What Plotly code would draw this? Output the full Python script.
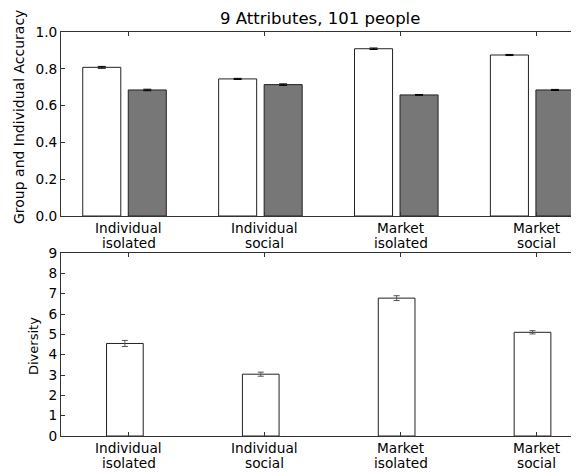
import plotly.graph_objects as go

categories = ["Individual isolated", "Individual social", "Market isolated", "Market social"]
label_line1 = ["Individual", "Individual", "Market", "Market"]
label_line2 = ["isolated", "social", "isolated", "social"]
group_acc = [0.808, 0.745, 0.909, 0.875]
group_err = [0.005, 0.003, 0.004, 0.003]
indiv_acc = [0.685, 0.714, 0.658, 0.685]
indiv_err = [0.004, 0.004, 0.002, 0.003]
diversity = [4.55, 3.04, 6.78, 5.10]
diversity_err = [0.15, 0.10, 0.12, 0.08]

idx = list(range(len(categories)))
W = 0.28
FONT = "DejaVu Sans"
EDGE = "#222222"
TICK_SIZE = 13.7

# page body has an 8px margin; figure is sized so it ends at the window edge
OFF = 8
W_PX, H_PX = 579 - OFF, 472 - OFF


def px(x):
    return (x - OFF) / W_PX


def py(y):
    return 1 - (y - OFF) / H_PX


fig = go.Figure()
fig.add_trace(go.Bar(
    x=[i - 0.20 for i in idx], y=group_acc, width=W,
    marker=dict(color="white", line=dict(color=EDGE, width=1)),
    error_y=dict(type="data", array=group_err, color="black", thickness=1, width=4),
    xaxis="x", yaxis="y", showlegend=False))
fig.add_trace(go.Bar(
    x=[i + 0.135 for i in idx], y=indiv_acc, width=W,
    marker=dict(color="#777777", line=dict(color=EDGE, width=1)),
    error_y=dict(type="data", array=indiv_err, color="black", thickness=1, width=4),
    xaxis="x", yaxis="y", showlegend=False))
fig.add_trace(go.Bar(
    x=[i - 0.03 for i in idx], y=diversity, width=0.27,
    marker=dict(color="white", line=dict(color=EDGE, width=1)),
    error_y=dict(type="data", array=diversity_err, color="#555555", thickness=1, width=3),
    xaxis="x2", yaxis="y2", showlegend=False))

xdom = [px(61), px(576)]
axis_common = dict(showline=True, linecolor="#333333", linewidth=1, mirror="ticks",
                   ticks="inside", ticklen=4, tickcolor="#333333", showgrid=False,
                   zeroline=False, automargin=False,
                   tickfont=dict(family=FONT, size=TICK_SIZE, color="black"))

annotations = [
    dict(text="9 Attributes, 101 people", x=px(320), y=py(19),
         xref="paper", yref="paper", showarrow=False, xanchor="center", yanchor="middle",
         font=dict(family=FONT, size=16.5, color="black")),
    dict(text="Group and Individual Accuracy", x=px(19), y=py(117),
         xref="paper", yref="paper", showarrow=False, textangle=-90,
         xanchor="center", yanchor="middle", font=dict(family=FONT, size=14, color="black")),
    dict(text="Diversity", x=px(33), y=py(346),
         xref="paper", yref="paper", showarrow=False, textangle=-90,
         xanchor="center", yanchor="middle", font=dict(family=FONT, size=13, color="black")),
]
# two-line category labels under each panel (matplotlib-like tight line spacing)
for xref, base in (("x", 227.5), ("x2", 447.5)):
    for i in idx:
        for line_text, dy in ((label_line1[i], 0), (label_line2[i], 15)):
            annotations.append(dict(
                text=line_text, x=i, y=py(base + dy), xref=xref, yref="paper",
                showarrow=False, xanchor="center", yanchor="middle",
                font=dict(family=FONT, size=TICK_SIZE, color="black")))

fig.update_layout(
    width=W_PX, height=H_PX, margin=dict(l=0, r=0, t=0, b=0, pad=0, autoexpand=False),
    paper_bgcolor="white", plot_bgcolor="white", barmode="overlay",
    font=dict(family=FONT, color="black"),
    xaxis=dict(domain=xdom, range=[-0.5, 3.29], tickvals=idx, ticktext=categories,
               showticklabels=False, anchor="y", **axis_common),
    yaxis=dict(domain=[py(216), py(32)], range=[0, 1.0],
               tickvals=[0, 0.2, 0.4, 0.6, 0.8, 1.0],
               ticktext=["0.0", "0.2", "0.4", "0.6", "0.8", "1.0"],
               anchor="x", **axis_common),
    xaxis2=dict(domain=xdom, range=[-0.5, 3.29], tickvals=idx, ticktext=categories,
                showticklabels=False, anchor="y2", **axis_common),
    yaxis2=dict(domain=[py(436), py(253)], range=[0, 9],
                tickvals=list(range(10)), anchor="x2", **axis_common),
    annotations=annotations,
)

fig.write_html("out.html")
